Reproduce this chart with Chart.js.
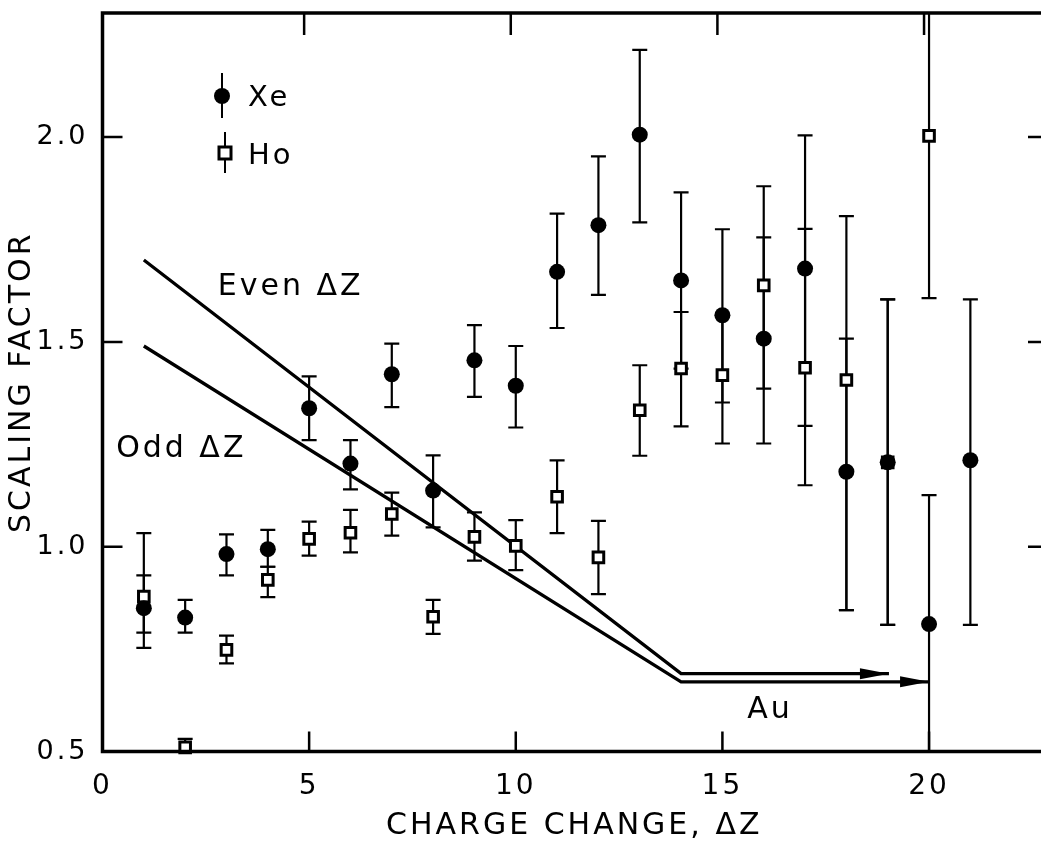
<!DOCTYPE html>
<html>
<head>
<meta charset="utf-8">
<title>Scaling factor vs charge change</title>
<script src="https://cdn.jsdelivr.net/npm/chart.js@4.4.1/dist/chart.umd.min.js"></script>
<style>
  html, body { margin: 0; padding: 0; background: #fff; overflow: hidden; }
</style>
</head>
<body>
<canvas id="chart-scaling" width="1060" height="844"></canvas>
<script>
Chart.defaults.color = '#000'
Chart.defaults.font.family = "'DejaVu Sans', sans-serif"

// Xe (filled circles)
const xeCharge = [1, 2, 3, 4, 5, 6, 7, 8, 9, 10, 11, 12, 13, 14, 15, 16, 17, 18, 19, 20, 21]
const xeFactor = [0.85, 0.827, 0.982, 0.994, 1.338, 1.203, 1.421, 1.137, 1.455, 1.393, 1.671, 1.785, 2.006, 1.65, 1.565, 1.508, 1.679, 1.183, 1.206, 0.811, 1.211]
const xeLow    = [0.79, 0.79, 0.93, 0.951, 1.26, 1.14, 1.341, 1.047, 1.366, 1.291, 1.534, 1.615, 1.792, 1.435, 1.352, 1.252, 1.15, 0.845, 0.809, 0.5, 0.809]
const xeHigh   = [0.93, 0.87, 1.03, 1.041, 1.416, 1.26, 1.496, 1.223, 1.541, 1.49, 1.813, 1.953, 2.213, 1.865, 1.775, 1.755, 2.004, 1.508, 1.604, 1.126, 1.604]

// Ho (open squares)
const hoCharge = [1, 2, 3, 4, 5, 6, 7, 8, 9, 10, 11, 12, 13, 14, 15, 16, 17, 18, 19, 20]
const hoFactor = [0.878, 0.51, 0.748, 0.919, 1.019, 1.034, 1.08, 0.829, 1.024, 1.002, 1.122, 0.974, 1.333, 1.435, 1.419, 1.638, 1.437, 1.407, 1.206, 2.003]
const hoLow    = [0.753, 0.49, 0.715, 0.877, 0.978, 0.986, 1.027, 0.787, 0.966, 0.943, 1.033, 0.884, 1.222, 1.294, 1.252, 1.386, 1.295, 0.845, 0.809, 1.607]
const hoHigh   = [1.033, 0.531, 0.783, 0.951, 1.061, 1.09, 1.132, 0.87, 1.084, 1.065, 1.211, 1.063, 1.443, 1.573, 1.565, 1.88, 1.776, 1.807, 1.604, 2.4]

// Au predictions
const evenLineX = [1, 14, 19.03]
const evenLineY = [1.70, 0.69, 0.69]
const oddLineX = [1, 14, 20]
const oddLineY = [1.49, 0.67, 0.67]

const xTicks = [0, 5, 10, 15, 20]
const yTicks = [0.5, 1.0, 1.5, 2.0]


function toPoints(xs, ys) {
    return xs.map((x, i) => ({ x: x, y: ys[i] }))
}


// error bars, frame, inner ticks, arrows and labels
const paperPlugin = {
    id: 'paper',

    beforeDraw(chart) {
        chart.ctx.letterSpacing = '3px'
    },

    beforeDatasetsDraw(chart) {
        const { ctx, chartArea, scales: { x, y } } = chart
        ctx.save()
        ctx.beginPath()
        ctx.rect(chartArea.left, chartArea.top, chartArea.right - chartArea.left, chartArea.bottom - chartArea.top)
        ctx.clip()
        ctx.strokeStyle = '#000'
        ctx.lineWidth = 2.2

        chart.data.datasets.forEach(ds => {
            if (!ds.errLow) return
            ds.data.forEach((p, i) => {
                const px = x.getPixelForValue(p.x)
                const lo = y.getPixelForValue(ds.errLow[i])
                const hi = y.getPixelForValue(ds.errHigh[i])
                ctx.beginPath()
                ctx.moveTo(px, lo)
                ctx.lineTo(px, hi)
                ctx.moveTo(px - 7.5, lo)
                ctx.lineTo(px + 7.5, lo)
                ctx.moveTo(px - 7.5, hi)
                ctx.lineTo(px + 7.5, hi)
                ctx.stroke()
            })
        })
        ctx.restore()
    },

    afterDatasetsDraw(chart) {
        const { ctx, chartArea, scales: { x, y } } = chart
        ctx.save()
        ctx.fillStyle = '#000'
        ctx.strokeStyle = '#000'

        // arrow heads
        chart.data.datasets.forEach(ds => {
            if (!ds.arrow) return
            const last = ds.data[ds.data.length - 1]
            const tx = x.getPixelForValue(last.x)
            const ty = y.getPixelForValue(last.y)
            ctx.beginPath()
            ctx.moveTo(tx, ty)
            ctx.lineTo(tx - 29, ty - 5.5)
            ctx.lineTo(tx - 29, ty + 5.5)
            ctx.closePath()
            ctx.fill()
        })

        // frame
        ctx.lineWidth = 3.5
        ctx.strokeRect(chartArea.left, chartArea.top, chartArea.right - chartArea.left, chartArea.bottom - chartArea.top)

        // inner ticks on all four sides
        ctx.lineWidth = 2.5
        ctx.beginPath()
        xTicks.slice(1).forEach(v => {
            const px = x.getPixelForValue(v)
            ctx.moveTo(px, chartArea.bottom)
            ctx.lineTo(px, chartArea.bottom - 20)
            ctx.moveTo(px - 5, chartArea.top)
            ctx.lineTo(px - 5, chartArea.top + 22)
        })
        yTicks.slice(1).forEach(v => {
            const py = y.getPixelForValue(v)
            ctx.moveTo(chartArea.left, py)
            ctx.lineTo(chartArea.left + 20, py)
            ctx.moveTo(chartArea.right, py)
            ctx.lineTo(chartArea.right - 18, py)
        })
        ctx.stroke()

        // line labels
        ctx.font = "30px 'DejaVu Sans', sans-serif"
        ctx.textAlign = 'left'
        ctx.textBaseline = 'middle'
        ctx.fillText('Even \u0394Z', x.getPixelForValue(2.79), y.getPixelForValue(1.634))
        ctx.fillText('Odd \u0394Z', x.getPixelForValue(0.33), y.getPixelForValue(1.238))
        ctx.fillText('Au', x.getPixelForValue(15.6), y.getPixelForValue(0.60))

        // key
        ctx.lineWidth = 2
        ctx.beginPath()
        ctx.moveTo(222, 73)
        ctx.lineTo(222, 118)
        ctx.moveTo(225, 132)
        ctx.lineTo(225, 173)
        ctx.stroke()
        ctx.beginPath()
        ctx.arc(222, 96, 8, 0, Math.PI * 2)
        ctx.fill()
        ctx.fillStyle = '#fff'
        ctx.fillRect(219, 147, 12, 12)
        ctx.lineWidth = 3
        ctx.strokeRect(219, 147, 12, 12)
        ctx.fillStyle = '#000'
        ctx.font = "29px 'DejaVu Sans', sans-serif"
        ctx.fillText('Xe', 248, 98)
        ctx.fillText('Ho', 248, 156)

        ctx.restore()
    }
}


function printScalingChart() {

    const hoFill = hoCharge.map(c => c === 19 ? '#000' : '#fff')

    const data = {
        datasets: [
            {
                label: 'Xe',
                data: toPoints(xeCharge, xeFactor),
                errLow: xeLow,
                errHigh: xeHigh,
                pointStyle: 'circle',
                pointRadius: 8,
                backgroundColor: '#000',
                borderColor: '#000',
                borderWidth: 0,
                clip: false,
                order: 1
            },
            {
                label: 'Ho',
                data: toPoints(hoCharge, hoFactor),
                errLow: hoLow,
                errHigh: hoHigh,
                pointStyle: 'rect',
                pointRadius: 7.5,
                backgroundColor: hoFill,
                borderColor: '#000',
                borderWidth: 3,
                clip: false,
                order: 2
            },
            {
                label: 'Even',
                data: toPoints(evenLineX, evenLineY),
                showLine: true,
                arrow: true,
                borderColor: '#000',
                borderWidth: 3.3,
                pointRadius: 0,
                order: 3
            },
            {
                label: 'Odd',
                data: toPoints(oddLineX, oddLineY),
                showLine: true,
                arrow: true,
                borderColor: '#000',
                borderWidth: 3.3,
                pointRadius: 0,
                order: 4
            }
        ]
    }

    const options = {
        responsive: false,
        animation: false,
        layout: {
            padding: { top: 13, right: 14, left: 0, bottom: 0 }
        },
        plugins: {
            legend: { display: false },
            tooltip: { enabled: false }
        },
        scales: {
            x: {
                type: 'linear',
                min: 0,
                max: 22.83,
                grid: { display: false },
                border: { display: false },
                afterBuildTicks: axis => { axis.ticks = xTicks.map(v => ({ value: v })) },
                afterFit: axis => {
                    axis.height = 92.5
                    axis.paddingLeft = 0
                    axis.paddingRight = 0
                },
                ticks: {
                    font: { size: 28 },
                    padding: 10,
                    callback: v => String(v)
                },
                title: {
                    display: true,
                    text: 'CHARGE CHANGE, \u0394Z',
                    font: { size: 30 },
                    padding: { top: 0, bottom: 0 }
                }
            },
            y: {
                type: 'linear',
                min: 0.5,
                max: 2.303,
                grid: { display: false },
                border: { display: false },
                afterBuildTicks: axis => { axis.ticks = yTicks.map(v => ({ value: v })) },
                afterFit: axis => {
                    axis.width = 102.5
                    axis.paddingTop = 0
                    axis.paddingBottom = 0
                },
                ticks: {
                    font: { size: 27 },
                    padding: 6,
                    callback: v => v.toFixed(1)
                },
                title: {
                    display: true,
                    text: 'SCALING FACTOR',
                    font: { size: 30 },
                    padding: { top: 4, bottom: 0 }
                }
            }
        }
    }

    new Chart('chart-scaling', { type: 'scatter', data, options, plugins: [paperPlugin] })
}

printScalingChart()
</script>
</body>
</html>
